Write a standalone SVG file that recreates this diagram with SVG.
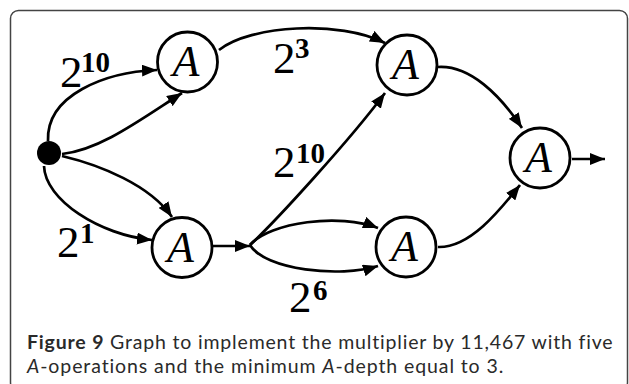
<svg xmlns="http://www.w3.org/2000/svg" width="629" height="384" viewBox="0 0 629 384">
<defs>
<style>
.node circle{fill:#fff;stroke:#000;stroke-width:2.8}
.node text{font-family:"Liberation Serif",serif;font-style:italic;font-size:44px;text-anchor:middle;fill:#000}
.edges path{fill:none;stroke:#000;stroke-width:2.7;marker-end:url(#ah)}
.lbl{font-family:"Liberation Serif",serif;font-size:45px;fill:#000}
.sup{font-family:"Liberation Serif",serif;font-size:29px;font-weight:bold;fill:#000}
.cap{font-family:Lato,"Open Sans",sans-serif;font-size:19.5px;fill:#2a2a2a}
</style>
<marker id="ah" markerUnits="userSpaceOnUse" markerWidth="16" markerHeight="12" refX="15" refY="6" orient="auto">
<path d="M0,0 L15,6 L0,12 z" fill="#000"/>
</marker>
</defs>
<rect x="10.5" y="10.5" width="617" height="380" rx="8" fill="none" stroke="#444" stroke-width="1.5"/>
<g class="edges">
<path d="M48,141 C46,95 105,72 157,70"/>
<path d="M62,154 C100,150 140,120 182,93"/>
<path d="M62,156 C100,165 150,185 172,217"/>
<path d="M44,166 C45,200 100,235 152,240"/>
<path d="M219,50 C250,25 340,20 385,43"/>
<path d="M213,246 L250,246"/>
<path d="M250,245 C275,222 350,140 385,93"/>
<path d="M250,245 C270,222 340,213 378,228"/>
<path d="M250,245 C265,270 340,278 378,266"/>
<path d="M438,67 C470,65 500,95 522,128"/>
<path d="M438,247 C470,248 500,210 520,185"/>
<path d="M572,159 L605,159"/>
</g>
<g id="src"><circle cx="49" cy="153" r="12" fill="#000"/></g>
<g id="n1" class="node"><circle cx="187.5" cy="62" r="30"/><text x="186" y="76">A</text></g>
<g id="n2" class="node"><circle cx="407" cy="65" r="30"/><text x="405.5" y="79">A</text></g>
<g id="n3" class="node"><circle cx="540" cy="158" r="30"/><text x="538.5" y="172">A</text></g>
<g id="n4" class="node"><circle cx="182" cy="247.5" r="30"/><text x="180.5" y="261.5">A</text></g>
<g id="n5" class="node"><circle cx="406" cy="247" r="30"/><text x="404.5" y="261">A</text></g>
<g id="labels">
<text class="lbl" x="60" y="87">2</text><text class="sup" x="81" y="72">10</text>
<text class="lbl" x="273" y="73">2</text><text class="sup" x="295" y="58">3</text>
<text class="lbl" x="273" y="177">2</text><text class="sup" x="296" y="163">10</text>
<text class="lbl" x="57" y="257">2</text><text class="sup" x="80" y="243">1</text>
<text class="lbl" x="289" y="312">2</text><text class="sup" x="313" y="300">6</text>
</g>
<text class="cap" x="27" y="349" letter-spacing="0.82"><tspan font-weight="bold">Figure 9</tspan> Graph to implement the multiplier by 11,467 with five</text>
<text class="cap" x="27" y="373" letter-spacing="0.9"><tspan font-style="italic">A</tspan>-operations and the minimum <tspan font-style="italic">A</tspan>-depth equal to 3.</text>
</svg>
